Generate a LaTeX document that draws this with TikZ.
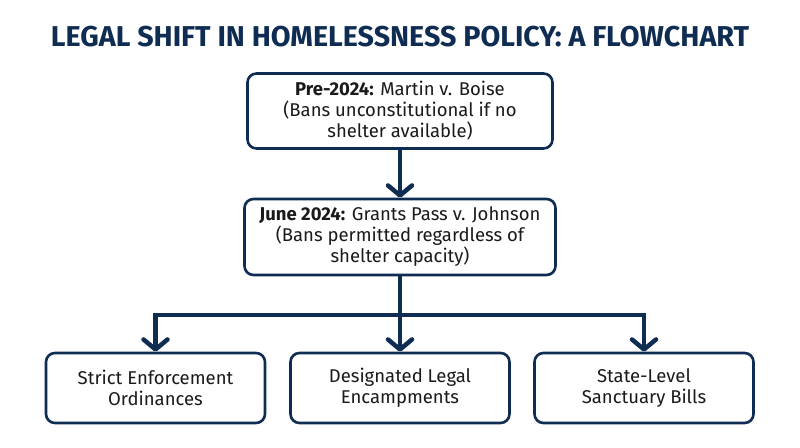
\documentclass[tikz,border=0pt]{standalone}
\usepackage{fontspec}
\setmainfont{Fira Sans}
\usetikzlibrary{arrows.meta}
\definecolor{navy}{HTML}{0F2D52}
\definecolor{ink}{HTML}{1A1A1A}
\tikzset{
	box/.style={draw=navy, line width=2.6pt, rounded corners=9pt, fill=white, text=ink, align=center, font=\fontsize{18.5}{21}\selectfont, inner sep=0pt},
	flow/.style={draw=navy, line width=4.5pt},
	flowarrow/.style={flow, -{Straight Barb[length=10pt, width=24pt, round]}}
}
\begin{document}
\begin{tikzpicture}[x=1pt, y=-1pt]
		%%%%% START %%%%%
		
		\useasboundingbox[fill=white] (0, 0) rectangle (800, 447);
		
		\node[text=navy, font=\bfseries\fontsize{28.7}{31}\selectfont] (title) at (400, 37) {LEGAL SHIFT IN HOMELESSNESS POLICY: A FLOWCHART};
		
		\node[box, minimum width=305pt, minimum height=75pt] (martin) at (400, 111) {\textbf{Pre-2024:} Martin v. Boise\\(Bans unconstitutional if no\\shelter available)};
		\node[box, minimum width=311pt, minimum height=76pt] (grants) at (400, 237) {\textbf{June 2024:} Grants Pass v. Johnson\\(Bans permitted regardless of\\shelter capacity)};
		
		\node[box, minimum width=219pt, minimum height=70pt] (strict) at (155.5, 388) {Strict Enforcement\\Ordinances};
		\node[box, minimum width=219pt, minimum height=70pt] (camps) at (400, 388) {Designated Legal\\Encampments};
		\node[box, minimum width=219pt, minimum height=70pt] (state) at (644, 388) {State-Level\\Sanctuary Bills};
		
		\coordinate (split) at (400, 315);
		
		\draw[flowarrow] (martin) -- (grants);
		\draw[flow] (grants) -- (split);
		\draw[flowarrow] (split) -- (camps);
		\draw[flowarrow] (split) -| (strict);
		\draw[flowarrow] (split) -| (state);
		
		%%%%% END %%%%%
	\end{tikzpicture}
\end{document}
